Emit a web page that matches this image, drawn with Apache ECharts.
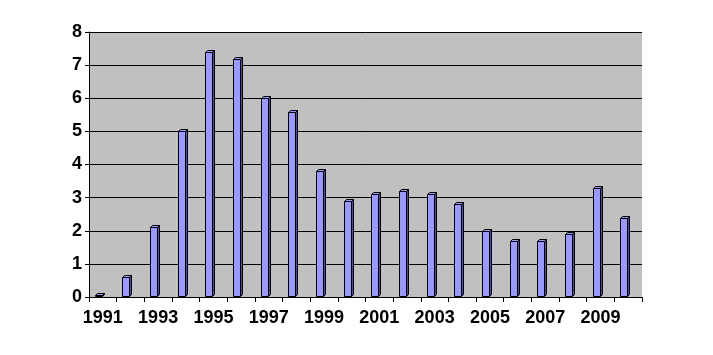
<!DOCTYPE html>
<html>
<head>
<meta charset="utf-8">
<script src="https://cdn.jsdelivr.net/npm/echarts@6/dist/echarts.min.js"></script>
<style>html,body{margin:0;padding:0;background:#fff}#c{width:713px;height:355px}</style>
</head>
<body>
<div id="c"></div>
<script>
const years = ['1991','1992','1993','1994','1995','1996','1997','1998','1999','2000','2001','2002','2003','2004','2005','2006','2007','2008','2009','2010'];
const values = [0.05,0.6,2.1,5.0,7.4,7.2,6.0,5.6,3.8,2.9,3.1,3.2,3.1,2.8,2.0,1.7,1.7,1.9,3.3,2.4];
const yTicks = [0,1,2,3,4,5,6,7,8];

const chart = echarts.init(document.getElementById('c'), null, {renderer:'canvas'});
const font = 'Liberation Sans, Arial, sans-serif';
chart.setOption({
  animation:false,
  grid:{left:89,right:71,top:32,bottom:58,show:true,backgroundColor:'#C0C0C0',borderWidth:0},
  xAxis:{
    type:'category', data:years, boundaryGap:true,
    axisLine:{show:true,lineStyle:{color:'#000',width:1}},
    axisTick:{show:true,interval:0,length:5,lineStyle:{color:'#000'}},
    axisLabel:{interval:1,color:'#000',fontFamily:font,fontWeight:'bold',fontSize:18,margin:12}
  },
  yAxis:{
    type:'value', min:yTicks[0], max:yTicks[yTicks.length-1], interval:1,
    axisLine:{show:true,lineStyle:{color:'#000',width:1}},
    axisTick:{show:true,length:4,lineStyle:{color:'#000'}},
    axisLabel:{color:'#000',fontFamily:font,fontWeight:'bold',fontSize:18,margin:7},
    splitLine:{show:true,lineStyle:{color:'#000',width:1}}
  },
  series:[{
    type:'custom',
    data:values.map((v,i)=>[i,v]),
    renderItem:function(params,api){
      const top = api.coord([api.value(0), api.value(1)]);
      const base = api.coord([api.value(0), 0]);
      const cx = top[0];
      const x0 = Math.round(cx-8)+0.5, x1 = x0+7, x2 = x1+2;
      const yt = Math.round(top[1])+0.5, yb = Math.round(base[1])-0.5;
      const d = 2;
      return {type:'group',children:[
        {type:'polygon',shape:{points:[[x1,yt],[x2,yt-d],[x2,yb-d],[x1,yb]]},style:{fill:'#4C4C99',stroke:'#000',lineWidth:1}},
        {type:'polygon',shape:{points:[[x0,yt],[x0+d,yt-d],[x2,yt-d],[x1,yt]]},style:{fill:'#9999FF',stroke:'#000',lineWidth:1}},
        {type:'rect',shape:{x:x0,y:yt,width:x1-x0,height:Math.max(0,yb-yt)},style:{fill:'#9999FF',stroke:'#000',lineWidth:1}}
      ]};
    }
  }]
});
</script>
</body>
</html>
